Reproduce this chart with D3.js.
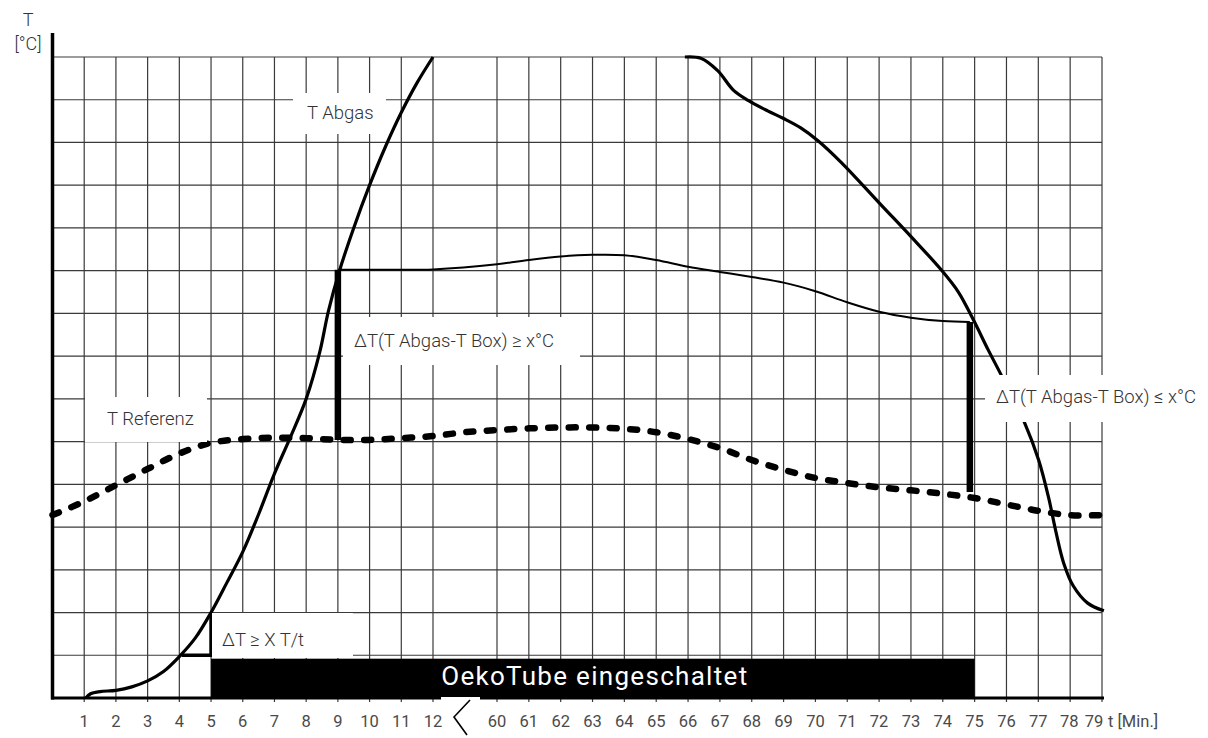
<!DOCTYPE html>
<html>
<head>
<meta charset="utf-8">
<script src="https://cdn.jsdelivr.net/npm/d3@7"></script>
<style>
  html, body { margin: 0; padding: 0; background: #fff; }
  svg { display: block; }
  text { font-family: Roboto, "DejaVu Sans", sans-serif; }
</style>
</head>
<body>
<svg id="chart" width="1208" height="738"></svg>
<script>
// ---------- data (minutes, grid rows) ----------
const xTickLabels = [1,2,3,4,5,6,7,8,9,10,11,12,60,61,62,63,64,65,66,67,68,69,70,71,72,73,74,75,76,77,78,79];
const yRows = [1,2,3,4,5,6,7,8,9,10,11,12,13,14,15];

const tAbgasRise = [[1.05,0],[1.2,0.1],[1.5,0.15],[2,0.18],[2.5,0.26],[3,0.4],[3.5,0.62],[4,0.97],[4.5,1.4],[5,2.0],[5.5,2.7],[6,3.42],[6.5,4.3],[7,5.25],[7.5,6.1],[8,7.0],[8.43,8.1],[8.7,9.05],[9.06,10.02],[9.5,11.0],[10,12.0],[10.5,12.9],[11,13.7],[11.5,14.4],[12,15]];
const tAbgasFall = [[65.9,15],[66.4,14.97],[66.93,14.68],[67.43,14.22],[67.9,13.98],[68.5,13.74],[69,13.56],[69.54,13.34],[70.08,13.04],[70.8,12.54],[72.06,11.54],[73.01,10.79],[73.95,10.02],[74.49,9.5],[74.96,8.85],[75.43,8.14],[75.84,7.55],[76.57,6.44],[77.01,5.57],[77.32,4.7],[77.55,3.9],[77.8,3.15],[78.1,2.62],[78.55,2.22],[79.06,2.04]];
const tBox = [[9,10.02],[10,10.02],[11,10.02],[12,10.03],[60,10.15],[61,10.25],[62,10.33],[63,10.37],[64,10.36],[65,10.25],[66,10.09],[67,9.97],[68,9.85],[69,9.72],[70,9.52],[71,9.26],[72,9.04],[73,8.9],[74,8.82],[74.85,8.8]];
const tReferenz = [[0,4.28],[1,4.6],[2,4.98],[3,5.36],[4,5.72],[5,5.97],[6,6.06],[7,6.09],[8,6.08],[9,6.04],[10,6.04],[11,6.08],[12,6.13],[36,6.22],[60,6.27],[61,6.31],[62,6.33],[63,6.33],[64,6.3],[65,6.22],[66,6.06],[67,5.85],[68,5.57],[69,5.34],[70,5.15],[71,5.03],[72,4.93],[73,4.86],[74,4.78],[75,4.68],[76,4.53],[77,4.38],[78,4.28],[79,4.28]];

const deltaStart = [9, 6.04, 10.02];      // minute, bottom row, top row
const deltaEnd = [74.85, 4.82, 8.8];
const slopeMarker = [[4.08,1],[5,1],[5,2]];
const oekoOn = [5, 75, 0.92];             // start, end, height (rows)

const labelTAbgas = "T Abgas";
const labelTRef = "T Referenz";
const labelDeltaOn = "ΔT(T Abgas-T Box) ≥ x°C";
const labelDeltaOff = "ΔT(T Abgas-T Box) ≤ x°C";
const labelSlope = "ΔT ≥ X T/t";
const labelBar = "OekoTube eingeschaltet";
const axisYLabel = ["T", "[°C]"];
const axisXLabel = "t [Min.]";

// ---------- scales ----------
const x = d3.scaleLinear().domain([0, 12, 60, 79]).range([52.5, 433, 497, 1102]);
const y = d3.scaleLinear().domain([0, 15]).range([698, 57]);

const svg = d3.select("#chart");
const gridColor = "#3a3a3a";

// grid
const grid = svg.append("g");
grid.selectAll("line.h").data(yRows).join("line")
  .attr("x1", x(0)).attr("x2", x(79))
  .attr("y1", d => y(d)).attr("y2", d => y(d))
  .attr("stroke", gridColor).attr("stroke-width", 1.2);
grid.selectAll("line.v").data(xTickLabels).join("line")
  .attr("x1", d => x(d)).attr("x2", d => x(d))
  .attr("y1", y(15)).attr("y2", y(0) + 4)
  .attr("stroke", gridColor).attr("stroke-width", 1.2);

// curves
const line = d3.line().x(d => x(d[0])).y(d => y(d[1])).curve(d3.curveCatmullRom.alpha(0.5));

svg.append("path").datum(tReferenz).attr("d", line)
  .attr("fill", "none").attr("stroke", "#000").attr("stroke-width", 6.5)
  .attr("stroke-linecap", "round").attr("stroke-dasharray", "7,13.5");

svg.append("path").datum(tBox).attr("d", line)
  .attr("fill", "none").attr("stroke", "#000").attr("stroke-width", 2);

svg.append("path").datum(tAbgasRise).attr("d", line)
  .attr("fill", "none").attr("stroke", "#000").attr("stroke-width", 3.2);
svg.append("path").datum(tAbgasFall).attr("d", line)
  .attr("fill", "none").attr("stroke", "#000").attr("stroke-width", 3.2);

// delta bars
[deltaStart, deltaEnd].forEach(d => {
  svg.append("line")
    .attr("x1", x(d[0])).attr("x2", x(d[0]))
    .attr("y1", y(d[1])).attr("y2", y(d[2]))
    .attr("stroke", "#000").attr("stroke-width", 6.5);
});

// slope marker
svg.append("path").datum(slopeMarker)
  .attr("d", d3.line().x(d => x(d[0])).y(d => y(d[1])))
  .attr("fill", "none").attr("stroke", "#000").attr("stroke-width", 3.5)
  .attr("stroke-linejoin", "miter");

// labels with white boxes
function boxLabel(text, cx, cy, bx0, by0, bx1, by1) {
  svg.append("rect").attr("x", bx0).attr("y", by0)
    .attr("width", bx1 - bx0).attr("height", by1 - by0).attr("fill", "#fff");
  svg.append("text").attr("x", cx).attr("y", cy)
    .attr("dominant-baseline", "central")
    .attr("font-size", 18.5).attr("font-weight", 300).attr("fill", "#333")
    .text(text);
}
boxLabel(labelTAbgas, 307, 113, 293, 93, 386, 134);
boxLabel(labelTRef, 107, 419, 85, 397, 207, 442);
boxLabel(labelDeltaOn, 354, 341, 343, 317, 580, 365);
boxLabel(labelDeltaOff, 996, 397, 985, 375, 1208, 422);
boxLabel(labelSlope, 222, 640, 212, 613, 353, 658);

// OekoTube bar
svg.append("rect")
  .attr("x", x(oekoOn[0])).attr("y", y(oekoOn[2]))
  .attr("width", x(oekoOn[1]) - x(oekoOn[0])).attr("height", y(0) - y(oekoOn[2]))
  .attr("fill", "#000");
svg.append("text")
  .attr("x", (x(oekoOn[0]) + x(oekoOn[1])) / 2 + 2).attr("y", 685)
  .attr("text-anchor", "middle").attr("font-size", 26).attr("fill", "#fff")
  .attr("letter-spacing", 1.3)
  .text(labelBar);

// axes
svg.append("line").attr("x1", x(0)).attr("x2", x(0)).attr("y1", 33).attr("y2", y(0) + 1.5)
  .attr("stroke", "#000").attr("stroke-width", 3.5);
svg.append("line").attr("x1", x(0) - 1.5).attr("x2", 441).attr("y1", y(0)).attr("y2", y(0))
  .attr("stroke", "#000").attr("stroke-width", 3);
svg.append("line").attr("x1", 480).attr("x2", x(79) + 2).attr("y1", y(0)).attr("y2", y(0))
  .attr("stroke", "#000").attr("stroke-width", 3);
svg.append("rect").attr("x", 441).attr("y", 697).attr("width", 39).attr("height", 3).attr("fill", "#fff");

// break symbol
svg.append("path").attr("d", "M470,700 L454,717 L467,735")
  .attr("fill", "none").attr("stroke", "#000").attr("stroke-width", 1.6);

// tick labels
svg.append("g").selectAll("text").data(xTickLabels).join("text")
  .attr("x", d => x(d) - (d === 79 ? 8 : d === 78 ? 1 : 0)).attr("y", 727)
  .attr("text-anchor", "middle").attr("font-size", 16.5).attr("font-weight", 400)
  .attr("fill", "#4a4a4a").text(d => d);
svg.append("text").attr("x", 1108).attr("y", 727)
  .attr("font-size", 16.5).attr("font-weight", 400).attr("fill", "#4a4a4a").text(axisXLabel);

svg.append("text").attr("x", 28).attr("y", 26).attr("text-anchor", "middle")
  .attr("font-size", 18).attr("font-weight", 300).attr("fill", "#333").text(axisYLabel[0]);
svg.append("text").attr("x", 28).attr("y", 50).attr("text-anchor", "middle")
  .attr("font-size", 18).attr("font-weight", 300).attr("fill", "#333").text(axisYLabel[1]);
</script>
</body>
</html>
